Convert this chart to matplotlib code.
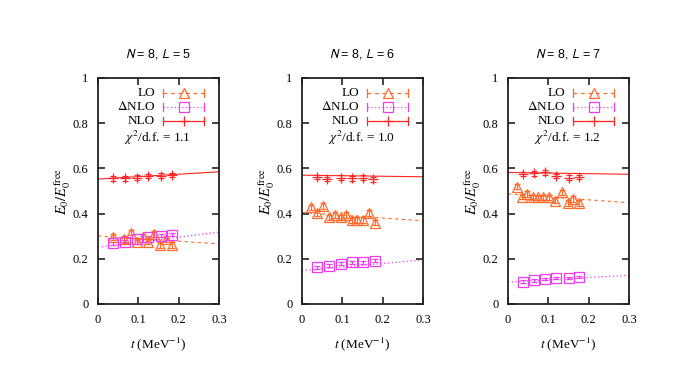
import numpy as np
import matplotlib
matplotlib.use("Agg")
import matplotlib.pyplot as plt

plt.rcParams['font.family'] = ['Liberation Serif', 'DejaVu Serif']
plt.rcParams['mathtext.fontset'] = 'stix'

# panel titles and chi^2 values
box_sizes = [5, 6, 7]
chi2 = ["1.1", "1.0", "1.2"]

# LO (triangles)
lo_t = [
    [0.038, 0.065, 0.081, 0.096, 0.111, 0.125, 0.140, 0.154, 0.168, 0.183],
    [0.023, 0.037, 0.053, 0.066, 0.081, 0.096, 0.110, 0.123, 0.137, 0.151, 0.166, 0.180],
    [0.022, 0.034, 0.048, 0.062, 0.075, 0.088, 0.102, 0.116, 0.134, 0.148, 0.162, 0.177],
]
lo_e = [
    [0.296, 0.287, 0.316, 0.276, 0.298, 0.276, 0.310, 0.262, 0.288, 0.262],
    [0.428, 0.402, 0.434, 0.384, 0.393, 0.384, 0.393, 0.372, 0.372, 0.372, 0.402, 0.360],
    [0.519, 0.475, 0.487, 0.472, 0.472, 0.472, 0.472, 0.457, 0.494, 0.446, 0.465, 0.446],
]
lo_err = [0.012, 0.012, 0.012]
lo_fit = [(0.301, 0.266), (0.405, 0.368), (0.487, 0.448)]   # value at t=0 and t=0.3

# Delta NLO (squares)
dnlo_t = [
    [0.038, 0.067, 0.096, 0.125, 0.155, 0.183],
    [0.037, 0.066, 0.096, 0.123, 0.151, 0.180],
    [0.038, 0.064, 0.092, 0.118, 0.150, 0.177],
]
dnlo_e = [
    [0.269, 0.276, 0.288, 0.296, 0.303, 0.306],
    [0.162, 0.169, 0.178, 0.184, 0.185, 0.191],
    [0.098, 0.104, 0.110, 0.115, 0.115, 0.119],
]
dnlo_err = [0.006, 0.006, 0.006]
dnlo_fit = [(0.251, 0.318), (0.148, 0.195), (0.097, 0.127)]

# NLO (plus)
nlo_t = [
    [0.038, 0.067, 0.096, 0.125, 0.155, 0.183],
    [0.037, 0.063, 0.096, 0.123, 0.151, 0.177],
    [0.038, 0.064, 0.092, 0.118, 0.150, 0.177],
]
nlo_e = [
    [0.556, 0.556, 0.559, 0.566, 0.568, 0.571],
    [0.563, 0.553, 0.559, 0.556, 0.559, 0.552],
    [0.575, 0.578, 0.582, 0.566, 0.559, 0.563],
]
nlo_err = [0.010, 0.010, 0.010]
nlo_fit = [(0.553, 0.585), (0.570, 0.563), (0.582, 0.574)]

c_lo = '#ff6a2a'
c_dnlo = '#f03cf0'
c_nlo = '#ff2424'

fig = plt.figure(figsize=(6.96, 3.72), dpi=100)
lefts = [98 / 696, 302 / 696, 508 / 696]


def legend_row(ax, y, label, color, ls, marker, ms):
    ax.text(0.47, y, label, transform=ax.transAxes, ha='right', va='center', fontsize=9.5)
    ax.plot([0.54, 0.88], [y, y], transform=ax.transAxes, color=color, ls=ls, lw=0.9)
    for xe in (0.54, 0.88):
        ax.plot([xe, xe], [y - 0.018, y + 0.018], transform=ax.transAxes, color=color, lw=0.9)
    ax.plot([0.71], [y], transform=ax.transAxes, color=color, marker=marker, ms=ms,
            mfc='none', mew=0.9, ls='none')


fit_x = np.array([0.0, 0.3])
for i in range(3):
    ax = fig.add_axes([lefts[i], 68 / 372, 121 / 696, 226 / 372])

    ax.plot(fit_x, lo_fit[i], color=c_lo, ls=(0, (3, 3)), lw=0.8)
    ax.plot(fit_x, dnlo_fit[i], color=c_dnlo, ls=(0, (1, 2)), lw=0.9)
    ax.plot(fit_x, nlo_fit[i], color=c_nlo, ls='-', lw=0.8)

    ax.errorbar(lo_t[i], lo_e[i], yerr=lo_err[i], fmt='^', color=c_lo, mfc='none',
                ms=6.5, mew=0.9, elinewidth=0.8, capsize=2.5, capthick=0.8)
    ax.errorbar(dnlo_t[i], dnlo_e[i], yerr=dnlo_err[i], fmt='s', color=c_dnlo, mfc='none',
                ms=7.5, mew=0.9, elinewidth=0.8, capsize=2.5, capthick=0.8)
    ax.errorbar(nlo_t[i], nlo_e[i], yerr=nlo_err[i], fmt='+', color=c_nlo,
                ms=7.5, mew=0.9, elinewidth=0.8, capsize=2.5, capthick=0.8)

    legend_row(ax, 0.935, 'LO', c_lo, (0, (3, 3)), '^', 6.5)
    legend_row(ax, 0.872, r'$\Delta$NLO', c_dnlo, (0, (1, 2)), 's', 7.5)
    legend_row(ax, 0.810, 'NLO', c_nlo, '-', '+', 7.5)
    ax.text(0.49, 0.733, r'$\chi^2$/d.f. = ' + chi2[i], transform=ax.transAxes,
            ha='center', va='center', fontsize=9.5)

    ax.set_xlim(0, 0.3)
    ax.set_ylim(0, 1)
    ax.set_xticks([0, 0.1, 0.2, 0.3])
    ax.set_xticklabels(['0', '0.1', '0.2', '0.3'])
    ax.set_yticks([0, 0.2, 0.4, 0.6, 0.8, 1])
    ax.set_yticklabels(['0', '0.2', '0.4', '0.6', '0.8', '1'])
    ax.tick_params(direction='in', length=5, width=1.2, top=True, right=True,
                   labelsize=9, pad=7, color='#222222')
    for sp in ax.spines.values():
        sp.set_linewidth(1.3)
        sp.set_color('#222222')

    ax.set_title(r'$N$ = 8, $L$ = %d' % box_sizes[i], family='Liberation Sans',
                 math_fontfamily='stixsans', fontsize=9, pad=15)
    ax.set_xlabel(r'$t$ (MeV$^{-1}$)', fontsize=9.5, labelpad=7)
    ax.set_ylabel(r'$E_0/E_0^{\rm free}$', fontsize=10.5, labelpad=0)

fig.savefig('out.png', dpi=100)
